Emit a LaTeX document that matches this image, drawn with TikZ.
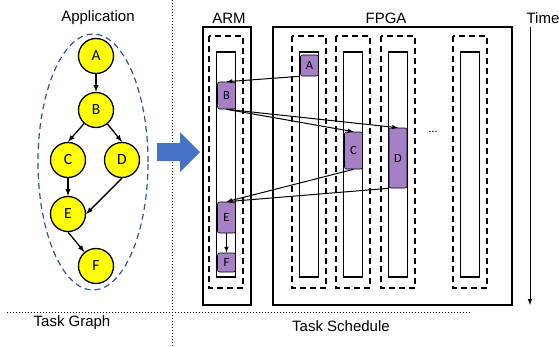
\documentclass[tikz,border=0pt]{standalone}
\usepackage{fontspec}
\setmainfont{Liberation Sans}
\newfontfamily\calibri{Carlito}
\usepackage{tikz}
\usetikzlibrary{shapes,arrows,positioning,calc}
\usepackage{xcolor}
\definecolor{nodeyellow}{RGB}{255,255,0}
\definecolor{taskpurple}{RGB}{166,127,196}
\definecolor{ovalblue}{RGB}{47,85,151}
\definecolor{arrowblue}{RGB}{68,114,196}

\begin{document}
\begin{tikzpicture}[x=1pt,y=-1pt,
    gnode/.style={circle,draw=black,line width=1.3pt,fill=nodeyellow,minimum size=35pt,inner sep=0pt,font=\calibri\fontsize{15.5}{15.5}\selectfont},
    slot/.style={rectangle,rounded corners=2pt,draw=black,line width=0.6pt,fill=taskpurple,minimum width=18pt,inner sep=0pt,font=\calibri\fontsize{12.5}{12.5}\selectfont},
    dep/.style={-latex,line width=1.3pt},
    sdep/.style={-latex,line width=1pt},
    title/.style={font=\fontsize{15}{15}\selectfont}]
        \useasboundingbox (0,0) rectangle (559,346);

        % Task graph
        \node[title] (appLabel) at (98,18) {Application};
        \draw[ovalblue,line width=1.2pt,dash pattern=on 6pt off 4pt] (93,162) ellipse (55pt and 128pt);
        \node[gnode] (gA) at (96,56) {A};
        \node[gnode] (gB) at (96,110) {B};
        \node[gnode] (gC) at (68,160) {C};
        \node[gnode] (gD) at (122,160) {D};
        \node[gnode] (gE) at (68,214) {E};
        \node[gnode] (gF) at (96,266) {F};
        \draw[dep] (gA) -- (gB);
        \draw[dep] (gB) -- (gC.north);
        \draw[dep] (gB) -- (gD.north);
        \draw[dep] (gC) -- (gE);
        \draw[dep] (gD.south) -- (gE.east);
        \draw[dep] (gE.south) -- (gF);

        % Separators
        \draw[dotted,line width=1pt] (172,0) -- (172,346);
        \draw[dotted,line width=1pt] (7,312) -- (470,312);
        \node[title] (graphLabel) at (72,323) {Task Graph};
        \node[title] (schedLabel) at (341,326) {Task Schedule};

        % Big arrow
        \fill[arrowblue] (157,143) -- (180,143) -- (180,132) -- (200,152) -- (180,172) -- (180,161) -- (157,161) -- cycle;

        % Processors
        \node[title] (armLabel) at (229,18) {ARM};
        \node[title] (fpgaLabel) at (386,18) {FPGA};
        \draw[line width=2pt] (203,27) rectangle (251,305);
        \draw[line width=2pt] (273,27) rectangle (512,305);
        \foreach \c in {226,309,353,398,470} {
            \draw[line width=1.2pt,dash pattern=on 6pt off 4pt] (\c-17,36) rectangle (\c+17,288);
            \draw[line width=1.2pt] (\c-9.5,52) rectangle (\c+9.5,277);
        }
        \node[font=\calibri\fontsize{12}{12}\selectfont] (more) at (433,132) {\dots};

        % Scheduled tasks
        \node[slot,minimum height=21pt] (sA) at (309.5,65.5) {A};
        \node[slot,minimum height=27pt] (sB) at (226.5,95.5) {B};
        \node[slot,minimum height=37pt] (sC) at (353.5,150.5) {C};
        \node[slot,minimum height=60pt] (sD) at (398,158) {D};
        \node[slot,minimum height=31pt] (sE) at (226.5,217.5) {E};
        \node[slot,minimum height=19pt] (sF) at (226.5,262.5) {F};
        \draw[sdep] (sA.south west) -- (sB.north);
        \draw[sdep] (sB.south) -- (sC.north);
        \draw[sdep] (sB.south) -- (sD.north);
        \draw[sdep] (sC.south) -- (sE.north);
        \draw[sdep] (sD.south west) -- (sE.north);
        \draw[sdep] (sE) -- (sF);

        % Time axis
        \node[title] (timeLabel) at (543,18) {Time};
        \coordinate (tStart) at (530,27);
        \coordinate (tEnd) at (530,305);
        \draw[-latex,line width=1pt] (tStart) -- (tEnd);
    \end{tikzpicture}
\end{document}
